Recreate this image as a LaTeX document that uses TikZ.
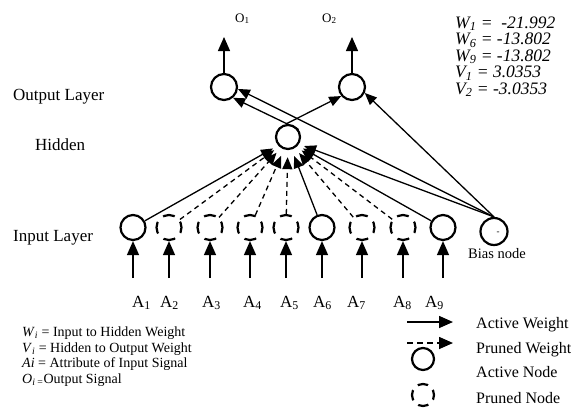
\documentclass[tikz,border=0pt]{standalone}
\usepackage{fontspec}
\setmainfont{Liberation Serif}
\usetikzlibrary{arrows.meta}
\begin{document}
\begin{tikzpicture}[x=1pt,y=-1pt,
  every node/.style={font=\fontsize{17}{20}\selectfont, inner sep=0pt},
  act/.style={circle,draw,line width=2.2pt,minimum size=25pt,inner sep=0pt},
  pru/.style={act,dash pattern=on 12pt off 7.63pt,dash phase=6pt},
  big/.style={-{Triangle[length=14pt,width=12pt]},line width=1.4pt},
  conn/.style={-{Triangle[length=12pt,width=10pt]},line width=1.3pt},
  dconn/.style={conn,dash pattern=on 5pt off 4pt},
  lbl/.style={anchor=base west},
  wt/.style={anchor=base west,font=\fontsize{17.5}{18}\selectfont\itshape},
  lgl/.style={anchor=base west,font=\fontsize{14}{15}\selectfont},
  lgr/.style={anchor=base west,font=\fontsize{16}{17}\selectfont},
]
\useasboundingbox (0,0) rectangle (571,410);

% input layer
\foreach \i/\x/\s in {1/133/act,2/169/pru,3/210/pru,4/250/pru,5/286/pru,6/322/act,7/362/pru,8/403/pru,9/443/act}{
  \node[\s] (a\i) at (\x,227.5) {};
  \coordinate (s\i) at (\x,278);
  \draw[big] (s\i) -- (a\i.south);
}
\node[act,minimum size=27pt] (bias) at (494,231.5) {};
\node[font=\fontsize{9}{9}\selectfont] (bm) at (498,233) {-};

% hidden and output
\node[act,minimum size=24pt] (hid) at (288,137) {};
\node[circle,minimum size=34pt,inner sep=0pt] (hidin) at (288,140) {};
\node[act,minimum size=26pt] (o1) at (224,87) {};
\node[act,minimum size=26pt] (o2) at (352,87) {};
\coordinate (o1t) at (224,37);
\coordinate (o2t) at (352,37);
\draw[big] (o1.north) -- (o1t);
\draw[big] (o2.north) -- (o2t);

% input to hidden
\foreach \i in {1,6,9}{ \draw[conn] (a\i) -- (hidin); }
\foreach \i in {2,3,4,5,7,8}{ \draw[dconn] (a\i) -- (hidin); }
% bias
\draw[conn] (bias.north) -- (hidin);
\draw[conn] (bias.north) -- (o1.-8);
\draw[conn] (bias.north) -- (o2.-25);
% hidden to output
\draw[conn] (hid.35) -- (o1.-50);
\draw[conn] (hid.100) -- (o2.-140);

% labels
\node[font=\fontsize{13}{14}\selectfont,anchor=base west] (lo1) at (235,22) {O\textsubscript{1}};
\node[font=\fontsize{13}{14}\selectfont,anchor=base west] (lo2) at (322,22) {O\textsubscript{2}};
\node[lbl] (lout) at (13,100) {Output Layer};
\node[lbl] (lhid) at (35,150) {Hidden};
\node[lbl] (lin) at (13,241) {Input Layer};
\node[anchor=base west,font=\fontsize{14.5}{15}\selectfont] (lbias) at (468,258) {Bias node};

\foreach \i/\x in {1/132,2/160,3/202,4/243,5/280,6/313,7/347,8/393,9/425}{
  \node[lbl] (t\i) at (\x,307) {A\textsubscript{\i}};
}

% weights
\node[wt] (w1) at (455,28) {W\textsubscript{1} =\ \ -21.992};
\node[wt] (w2) at (455,44.6) {W\textsubscript{6} = -13.802};
\node[wt] (w3) at (455,61.2) {W\textsubscript{9} = -13.802};
\node[wt] (w4) at (455,77.8) {V\textsubscript{1} = 3.0353};
\node[wt] (w5) at (455,94.4) {V\textsubscript{2} = -3.0353};

% left legend
\node[lgl] (g1) at (22,336.5) {\textit{W}\textsubscript{\textit{i}} = Input to Hidden Weight};
\node[lgl] (g2) at (22,352) {\textit{V}\textsubscript{\textit{i}} = Hidden to Output Weight};
\node[lgl] (g3) at (22,367.5) {\textit{Ai} = Attribute of Input Signal};
\node[lgl] (g4) at (22,383) {\textit{O}\textsubscript{\textit{i} =}Output Signal};

% right legend
\coordinate (la1) at (407,322);
\coordinate (la2) at (453,322);
\draw[big,line width=1.6pt] (la1) -- (la2);
\coordinate (lb1) at (407,343);
\coordinate (lb2) at (453,343);
\draw[big,line width=1.6pt,dash pattern=on 6pt off 4pt] (lb1) -- (lb2);
\node[act,minimum size=22pt] (lact) at (423,359) {};
\node[act,minimum size=22pt,dash pattern=on 10.5pt off 6.78pt,dash phase=5.25pt] (lpru) at (423,395) {};
\node[lgr] (r1) at (476,328.5) {Active Weight};
\node[lgr] (r2) at (476,353) {Pruned Weight};
\node[lgr] (r3) at (476,377.5) {Active Node};
\node[lgr] (r4) at (476,403) {Pruned Node};
\end{tikzpicture}
\end{document}
